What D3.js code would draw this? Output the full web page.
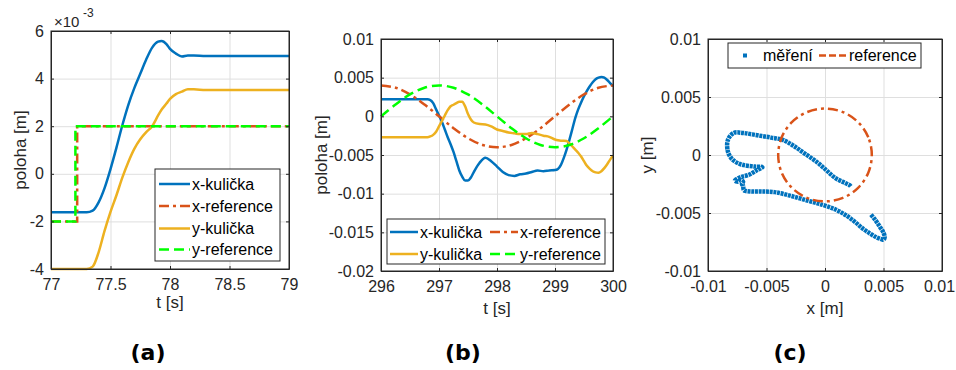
<!DOCTYPE html>
<html>
<head>
<meta charset="utf-8">
<script src="https://cdn.jsdelivr.net/npm/d3@7"></script>
<style>
body{margin:0;background:#fff}
svg{font-family:"Liberation Sans",Arial,sans-serif}
.tick text{fill:#262626;font-size:16px}
.lbl{fill:#262626;font-size:17px}
.leg{fill:#000;font-size:16px}
.cap{fill:#000;font-size:22px;font-weight:bold;font-family:"DejaVu Sans",sans-serif}
</style>
</head>
<body>
<svg id="chart" width="956" height="370"></svg>
<script>
// (a) step response, values in 1e-3 m
const tA=[77,77.30,77.35,77.40,77.45,77.50,77.55,77.60,77.65,77.70,77.75,77.80,77.85,77.90,77.93,77.97,78.00,78.05,78.10,78.15,78.20,78.30,79]
const xBallA=[-1.62,-1.62,-1.55,-1.2,-0.6,0.2,1.1,2.05,2.9,3.6,4.2,4.8,5.3,5.55,5.58,5.45,5.25,5.05,4.93,4.97,4.97,4.95,4.95]
const yBallA=[-4,-4,-3.9,-3.3,-2.4,-1.6,-0.9,-0.15,0.5,1.05,1.45,1.75,2.0,2.45,2.7,2.95,3.15,3.35,3.45,3.55,3.55,3.52,3.52]
const tXRefA=[77,77.22,79]
const xRefA=[-2,2,2]
const tYRefA=[77,77.205,79]
const yRefA=[-2,2,2]

// (b) circle tracking, values in m
const tB=[296,296.4,296.8,296.85,296.9,296.95,297.0,297.05,297.1,297.15,297.2,297.25,297.3,297.35,297.4,297.45,297.5,297.55,297.6,297.7,297.8,297.9,298.0,298.1,298.2,298.3,298.4,298.5,298.6,298.7,298.8,298.9,299.0,299.05,299.1,299.15,299.2,299.25,299.3,299.35,299.4,299.45,299.5,299.55,299.6,299.65,299.7,299.75,299.8,299.85,299.9,299.95,300]
const xBallB=[0.0022,0.0022,0.0022,0.0021,0.0017,0.0009,0.0001,-0.0007,-0.0017,-0.0027,-0.0036,-0.0046,-0.0058,-0.0070,-0.0078,-0.0083,-0.0083,-0.0079,-0.0072,-0.0060,-0.00535,-0.0058,-0.0065,-0.0072,-0.0076,-0.0077,-0.0075,-0.0074,-0.0072,-0.0070,-0.0071,-0.0070,-0.00695,-0.0068,-0.0063,-0.0054,-0.0043,-0.0030,-0.0016,-0.0002,0.0009,0.0018,0.0026,0.0033,0.0039,0.0044,0.0048,0.0050,0.0051,0.0050,0.0047,0.0043,0.0039]
const yBallB=[-0.0027,-0.0027,-0.0027,-0.0026,-0.0024,-0.0020,-0.0013,-0.0006,0.0001,0.0008,0.0013,0.0015,0.0017,0.0019,0.0019,0.0013,0.0003,-0.0004,-0.0008,-0.0010,-0.00105,-0.0013,-0.0017,-0.0019,-0.0021,-0.0022,-0.0023,-0.0023,-0.00215,-0.0023,-0.0025,-0.00265,-0.0030,-0.0031,-0.00315,-0.00315,-0.0032,-0.0035,-0.0039,-0.0043,-0.0047,-0.0052,-0.0058,-0.0064,-0.0068,-0.0071,-0.00725,-0.0073,-0.0071,-0.0067,-0.0062,-0.0056,-0.0051]
const tRefB=[296,296.25,296.5,296.75,297,297.25,297.5,297.75,298,298.25,298.5,298.75,299,299.25,299.5,299.75,300]
const xRefB=[0.004,0.0037,0.00283,0.00153,0,-0.00153,-0.00283,-0.0037,-0.004,-0.0037,-0.00283,-0.00153,0,0.00153,0.00283,0.0037,0.004]
const yRefB=[0,0.00153,0.00283,0.0037,0.004,0.0037,0.00283,0.00153,0,-0.00153,-0.00283,-0.0037,-0.004,-0.0037,-0.00283,-0.00153,0]

// tick labels
const ticksXA=[77,77.5,78,78.5,79]
const ticksYA=[-4,-2,0,2,4,6]
const ticksXB=[296,297,298,299,300]
const ticksYB=[-0.02,-0.015,-0.01,-0.005,0,0.005,0.01]
const ticksC=[-0.01,-0.005,0,0.005,0.01]

const blue="#0072BD", red="#D95319", yellow="#EDB120", green="#00FF00", ink="#262626"
const svg=d3.select("#chart")

let fmt=(d)=>String(+d.toFixed(3))

let panel=(left,top,w,h,xDom,yDom,xt,yt)=>{
    let g=svg.append("g").attr("transform",`translate(${left},${top})`)
    let x=d3.scaleLinear().domain(xDom).range([0,w])
    let y=d3.scaleLinear().domain(yDom).range([h,0])
    g.append("rect").attr("width",w).attr("height",h).attr("fill","#fff")
    //grid
    g.append("g").attr("transform",`translate(0,${h})`)
      .call(d3.axisBottom(x).tickValues(xt).tickSize(-h).tickFormat(""))
      .call(a=>{a.select(".domain").remove();a.selectAll("line").attr("stroke","#dfdfdf")})
    g.append("g")
      .call(d3.axisLeft(y).tickValues(yt).tickSize(-w).tickFormat(""))
      .call(a=>{a.select(".domain").remove();a.selectAll("line").attr("stroke","#dfdfdf")})
    let plot=g.append("g")
    //axes with inward ticks
    let ax=g.append("g")
    let bottom=ax.append("g").attr("transform",`translate(0,${h})`)
      .call(d3.axisBottom(x).tickValues(xt).tickSizeInner(-3).tickSizeOuter(0).tickPadding(10).tickFormat(fmt))
    ax.append("g")
      .call(d3.axisTop(x).tickValues(xt).tickSizeInner(-3).tickSizeOuter(0).tickFormat(""))
    ax.append("g")
      .call(d3.axisLeft(y).tickValues(yt).tickSizeInner(-3).tickSizeOuter(0).tickPadding(7).tickFormat(fmt))
    ax.append("g").attr("transform",`translate(${w},0)`)
      .call(d3.axisRight(y).tickValues(yt).tickSizeInner(-3).tickSizeOuter(0).tickFormat(""))
    ax.selectAll("path,line").attr("stroke",ink)
    ax.selectAll("text").attr("fill",ink).style("font-size","16px")
    bottom.selectAll("text").attr("dy","0.71em")
    g.append("rect").attr("width",w).attr("height",h).attr("fill","none").attr("stroke",ink)
    return {g,plot,x,y,w,h,bottom}
}

let line=(p,xs,ys,color,dash,curve)=>{
    let pts=xs.map((v,i)=>[v,ys[i]])
    p.plot.append("path").datum(pts)
      .attr("fill","none").attr("stroke",color).attr("stroke-width",2.5)
      .attr("stroke-dasharray",dash)
      .attr("d",d3.line().x(d=>p.x(d[0])).y(d=>p.y(d[1])).curve(curve||d3.curveMonotoneX))
}

let legendRow=(g,x0,y0,len,color,dash,label)=>{
    g.append("line").attr("x1",x0).attr("x2",x0+len).attr("y1",y0).attr("y2",y0)
      .attr("stroke",color).attr("stroke-width",2.5).attr("stroke-dasharray",dash)
    g.append("text").attr("class","leg").attr("x",x0+len+2).attr("y",y0+5.5).text(label)
}

const dashDot="10,4,3,4", dashed="10,5"

// ---------- (a)
let pa=panel(51,31,238,238,[77,79],[-4,6],ticksXA,ticksYA)
line(pa,tA,xBallA,blue,null)
line(pa,tXRefA,xRefA,red,dashDot,d3.curveStepAfter)
line(pa,tA,yBallA,yellow,null)
line(pa,tYRefA,yRefA,green,dashed,d3.curveStepAfter)
let la=pa.g.append("g")
la.append("rect").attr("x",104).attr("y",138).attr("width",125).attr("height",92).attr("fill","#fff").attr("stroke",ink)
legendRow(la,108,153,31,blue,null,"x-kulička")
legendRow(la,108,175,31,red,dashDot,"x-reference")
legendRow(la,108,197.5,31,yellow,null,"y-kulička")
legendRow(la,108,218.5,31,green,dashed,"y-reference")
pa.g.append("text").attr("class","lbl").attr("x",3).attr("y",-4).style("font-size","15px").text("×10")
pa.g.append("text").attr("class","lbl").attr("x",32).attr("y",-14).style("font-size","12px").text("-3")
svg.append("text").attr("class","lbl").attr("x",170).attr("y",308).attr("text-anchor","middle").text("t [s]")
svg.append("text").attr("class","lbl").attr("transform","translate(26,150) rotate(-90)").attr("text-anchor","middle").text("poloha [m]")
svg.append("text").attr("class","cap").attr("x",148).attr("y",360).attr("text-anchor","middle").text("(a)")

// ---------- (b)
let pb=panel(381,39,232,232,[296,300],[-0.02,0.01],ticksXB,ticksYB)
line(pb,tB,xBallB,blue,null)
line(pb,tRefB,xRefB,red,dashDot,d3.curveCatmullRom)
line(pb,tB,yBallB,yellow,null)
line(pb,tRefB,yRefB,green,dashed,d3.curveCatmullRom)
let lb=pb.g.append("g")
lb.append("rect").attr("x",6).attr("y",180).attr("width",218).attr("height",45).attr("fill","#fff").attr("stroke",ink)
legendRow(lb,9,193,28,blue,null,"x-kulička")
legendRow(lb,109,193,28,red,dashDot,"x-reference")
legendRow(lb,9,215,28,yellow,null,"y-kulička")
legendRow(lb,109,215,28,green,dashed,"y-reference")
svg.append("text").attr("class","lbl").attr("x",497).attr("y",314).attr("text-anchor","middle").text("t [s]")
svg.append("text").attr("class","lbl").attr("transform","translate(327,155) rotate(-90)").attr("text-anchor","middle").text("poloha [m]")
svg.append("text").attr("class","cap").attr("x",463).attr("y",360).attr("text-anchor","middle").text("(b)")

// ---------- (c)
let pc=panel(708,39,234,232,[-0.01,0.01],[-0.01,0.01],ticksC,ticksC)
pc.bottom.selectAll(".tick text").filter(d=>d===0.01).attr("dx","-3")
pc.plot.append("path").datum(xBallB.map((v,i)=>[v,yBallB[i]]))
  .attr("fill","none").attr("stroke",blue).attr("stroke-width",4.5).attr("stroke-dasharray","3,0.7")
  .attr("d",d3.line().x(d=>pc.x(d[0])).y(d=>pc.y(d[1])).curve(d3.curveCatmullRom))
pc.plot.append("path").datum(xRefB.slice(0,-1).map((v,i)=>[v,yRefB[i]]))
  .attr("fill","none").attr("stroke",red).attr("stroke-width",2.5).attr("stroke-dasharray",dashDot)
  .attr("d",d3.line().x(d=>pc.x(d[0])).y(d=>pc.y(d[1])).curve(d3.curveCatmullRomClosed))
let lc=pc.g.append("g")
lc.append("rect").attr("x",20).attr("y",4).attr("width",193).attr("height",25).attr("fill","#fff").attr("stroke",ink)
lc.append("rect").attr("x",35).attr("y",14.5).attr("width",4).attr("height",4).attr("fill",blue)
lc.append("text").attr("class","leg").attr("x",55).attr("y",22).text("měření")
legendRow(lc,111,16.5,28,red,"7,3","reference")
svg.append("text").attr("class","lbl").attr("x",825).attr("y",314).attr("text-anchor","middle").text("x [m]")
svg.append("text").attr("class","lbl").attr("transform","translate(653,155) rotate(-90)").attr("text-anchor","middle").text("y [m]")
svg.append("text").attr("class","cap").attr("x",790).attr("y",360).attr("text-anchor","middle").text("(c)")
</script>
</body>
</html>
